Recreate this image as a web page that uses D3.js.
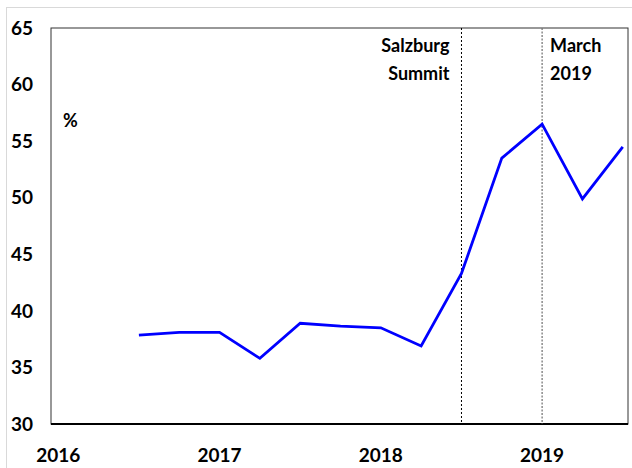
<!DOCTYPE html>
<html><head><meta charset="utf-8">
<script src="https://cdn.jsdelivr.net/npm/d3@7"></script>
<style>body{margin:0;background:#fff;} text{font-family:Lato, "Open Sans", sans-serif;font-weight:bold;fill:#000;}</style>
</head><body><svg id="c" width="632" height="468"></svg>
<script>
// quarter index (0 = start of 2016)
const quarters = [2,3,4,5,6,7,8,9,10,11,12,13,14];
const values = [37.85,38.1,38.1,35.8,38.9,38.65,38.5,36.9,43.3,53.5,56.5,49.9,54.5];
const yearLabels = ["2016","2017","2018","2019"];
const yearPos = [0,4,8,12];
const yTicks = [30,35,40,45,50,55,60,65];
const events = [{q:10, label:["Salzburg","Summit"], side:"left"},{q:12, label:["March","2019"], side:"right"}];

const svg = d3.select("#c");
const L=51,R=628,T=28,B=424;
const x = d3.scaleLinear().domain([-0.18,14.13]).range([L,R]);
const y = d3.scaleLinear().domain([30,65]).range([B,T]);

// outer light border
svg.append("line").attr("x1",6).attr("x2",632).attr("y1",7.5).attr("y2",7.5).attr("stroke","#d9d9d9");
svg.append("line").attr("x1",6.5).attr("x2",6.5).attr("y1",7).attr("y2",468).attr("stroke","#d9d9d9");

// frame
svg.append("rect").attr("x",L).attr("y",T).attr("width",R-L).attr("height",B-T).attr("fill","none").attr("stroke","#333").attr("stroke-width",1);
svg.append("line").attr("x1",L).attr("x2",R).attr("y1",B).attr("y2",B).attr("stroke","#000").attr("stroke-width",2);

// event lines
svg.append("line").attr("x1",x(events[0].q)).attr("x2",x(events[0].q)).attr("y1",T).attr("y2",B)
  .attr("stroke","#000").attr("stroke-width",1).attr("stroke-dasharray","2,2");
svg.append("line").attr("x1",x(events[1].q)).attr("x2",x(events[1].q)).attr("y1",T).attr("y2",B)
  .attr("stroke","#777").attr("stroke-width",1.3).attr("stroke-dasharray","2,1.5");

events.forEach(e=>{
  const t = svg.append("text").attr("font-size",18)
    .attr("text-anchor", e.side==="left"?"end":"start");
  const xx = e.side==="left" ? x(e.q)-12 : x(e.q)+8;
  e.label.forEach((s,i)=>{
    t.append("tspan").attr("x",xx).attr("y",52+i*28).text(s);
  });
});

// y labels
svg.selectAll(".yl").data(yTicks).enter().append("text")
  .attr("x",33).attr("y",d=>y(d)).attr("dy","0.35em").attr("text-anchor","end")
  .attr("font-size",19).text(d=>d);

// x labels
svg.selectAll(".xl").data(yearLabels).enter().append("text")
  .attr("x",(d,i)=>x(yearPos[i])).attr("y",462).attr("text-anchor","middle")
  .attr("font-size",19).text(d=>d);

svg.append("text").attr("x",63).attr("y",127).attr("font-size",18).text("%");

// line
const line = d3.line().x((d,i)=>x(quarters[i])).y(d=>y(d));
svg.append("path").datum(values).attr("d",line).attr("fill","none")
  .attr("stroke","#0000ff").attr("stroke-width",2.8).attr("stroke-linejoin","miter");
</script></body></html>
